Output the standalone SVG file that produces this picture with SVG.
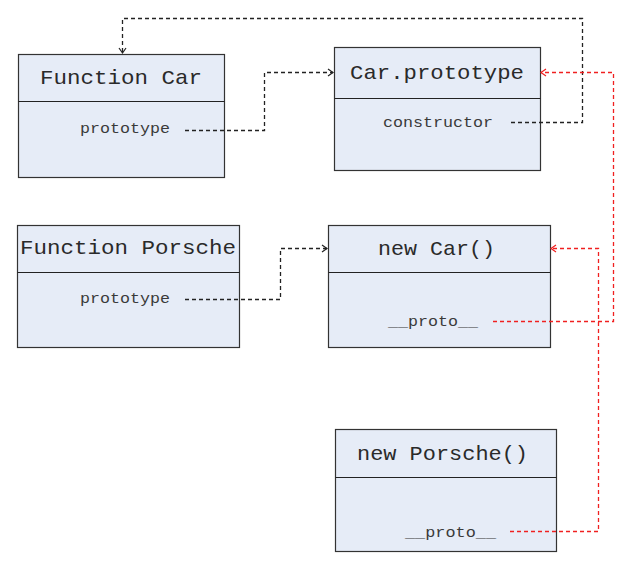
<svg xmlns="http://www.w3.org/2000/svg" width="625" height="568" viewBox="0 0 625 568">
<style>
.box{fill:#e6ecf7;stroke:#333;stroke-width:1.2}
.div{stroke:#222;stroke-width:1.2}
.t{font-family:"Liberation Mono","DejaVu Sans Mono",monospace;fill:#2a2a2a;font-size:21px}
.s{font-family:"Liberation Mono","DejaVu Sans Mono",monospace;fill:#3a3a3a;font-size:14px}
.c{fill:none;stroke:#222;stroke-width:1.3;stroke-dasharray:4 3}
.r{fill:none;stroke:#f02020;stroke-width:1.3;stroke-dasharray:4 3}
</style>
<defs>
<marker id="ab" markerWidth="10" markerHeight="10" refX="8" refY="5" orient="auto" markerUnits="userSpaceOnUse">
<path d="M3,1.5 L8,5 L3,8.5" fill="none" stroke="#222" stroke-width="1.2"/>
</marker>
<marker id="ar" markerWidth="10" markerHeight="10" refX="8" refY="5" orient="auto" markerUnits="userSpaceOnUse">
<path d="M3,1.5 L8,5 L3,8.5" fill="none" stroke="#f02020" stroke-width="1.2"/>
</marker>
</defs>
<g id="functionCar">
<rect class="box" x="18.5" y="54.5" width="206" height="123"/>
<line class="div" x1="18.5" y1="101.5" x2="224.5" y2="101.5"/>
<text class="t" x="40" y="84" textLength="162" lengthAdjust="spacingAndGlyphs">Function Car</text>
<text class="s" x="80" y="133" textLength="90" lengthAdjust="spacingAndGlyphs">prototype</text>
</g>
<g id="carPrototype">
<rect class="box" x="334.5" y="47.5" width="206" height="123"/>
<line class="div" x1="334.5" y1="98.5" x2="540.5" y2="98.5"/>
<text class="t" x="350" y="79" textLength="174" lengthAdjust="spacingAndGlyphs">Car.prototype</text>
<text class="s" x="383" y="127" textLength="110" lengthAdjust="spacingAndGlyphs">constructor</text>
</g>
<g id="functionPorsche">
<rect class="box" x="17.5" y="225.5" width="222" height="122"/>
<line class="div" x1="17.5" y1="272.5" x2="239.5" y2="272.5"/>
<text class="t" x="20" y="254" textLength="216" lengthAdjust="spacingAndGlyphs">Function Porsche</text>
<text class="s" x="80" y="303" textLength="90" lengthAdjust="spacingAndGlyphs">prototype</text>
</g>
<g id="newCar">
<rect class="box" x="328.5" y="225.5" width="222" height="122"/>
<line class="div" x1="328.5" y1="272.5" x2="550.5" y2="272.5"/>
<text class="t" x="378" y="255" textLength="117" lengthAdjust="spacingAndGlyphs">new Car()</text>
<text class="s" x="388" y="326" textLength="90" lengthAdjust="spacingAndGlyphs">__proto__</text>
</g>
<g id="newPorsche">
<rect class="box" x="335.5" y="429.5" width="221" height="122"/>
<line class="div" x1="335.5" y1="477.5" x2="556.5" y2="477.5"/>
<text class="t" x="357" y="460" textLength="171" lengthAdjust="spacingAndGlyphs">new Porsche()</text>
<text class="s" x="405" y="537" textLength="91" lengthAdjust="spacingAndGlyphs">__proto__</text>
</g>
<g id="connectors">
<path class="c" d="M185,130.5 H264.5 V72.5 H333" marker-end="url(#ab)"/>
<path class="c" d="M511,122.5 H582.5 V18.5 H122.5 V53" marker-end="url(#ab)"/>
<path class="c" d="M185,299.5 H280.5 V248.5 H327" marker-end="url(#ab)"/>
<path class="r" d="M493,321.5 H613.5 V72.5 H541" marker-end="url(#ar)"/>
<path class="r" d="M510,531.5 H598.5 V248.5 H551" marker-end="url(#ar)"/>
</g>
</svg>
